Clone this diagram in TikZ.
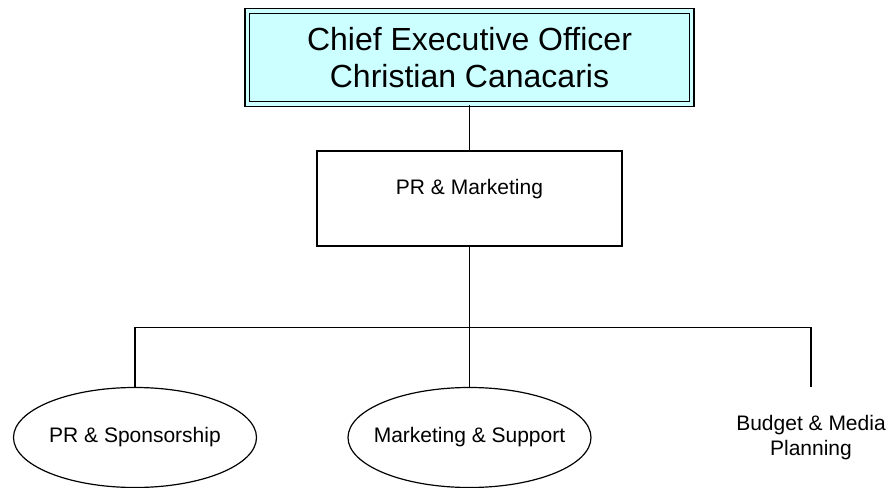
\documentclass[tikz,border=0pt]{standalone}
\usepackage{fontspec}
\setmainfont{Liberation Sans}
\usetikzlibrary{shapes.geometric,positioning}

\definecolor{ceofill}{RGB}{204,255,255}

\begin{document}
\begin{tikzpicture}[on grid,line width=0.9pt,
        head/.style={rectangle, fill=ceofill, draw, double=ceofill, double distance=2.5pt, line width=1pt,
            minimum width=333pt, minimum height=69.75pt, align=center, font=\fontsize{24}{27.75}\selectfont},
        dept/.style={rectangle, draw, minimum width=228.75pt, minimum height=71.25pt,
            text height=11pt, text depth=17pt, font=\fontsize{15.75}{18.75}\selectfont},
        unit/.style={ellipse, draw, minimum width=182.25pt, minimum height=75pt,
            align=center, font=\fontsize{15.75}{18.75}\selectfont}]
            \useasboundingbox (-352.125pt,43.125pt) rectangle (319.125pt,-322.875pt);
            \node[head] (ceo) {Chief Executive Officer\\Christian Canacaris};
            \node[dept] (pr_mkt) [below=105.75pt of ceo] {PR \& Marketing};
            \coordinate[below=96.75pt of pr_mkt] (bar);
            \node[unit] (mkt_sup) [below=179.25pt of pr_mkt] {\makebox[0pt]{Marketing \& Support}};
            \node[unit] (pr_spons) [left=250.875pt of mkt_sup] {\makebox[0pt]{PR \& Sponsorship}};
            \node[unit, draw=none] (budget) [right=256.125pt of mkt_sup] {Budget \& Media\\Planning};
            \path[draw]
                (ceo)
                    edge (pr_mkt)
                (pr_mkt)
                    edge (bar)
                (bar)
                    edge (mkt_sup);
            \draw (pr_spons.north) |- (bar) -| (budget.north);
        \end{tikzpicture}
\end{document}
